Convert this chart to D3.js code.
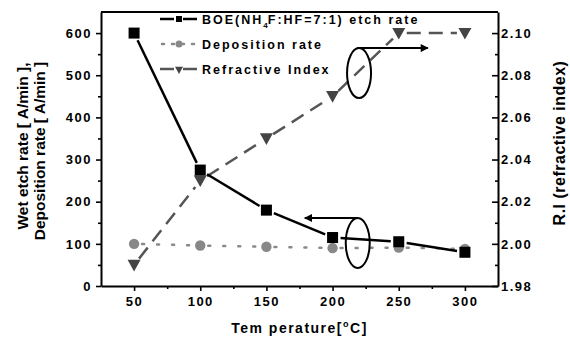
<!DOCTYPE html>
<html>
<head>
<meta charset="utf-8">
<script src="https://cdn.jsdelivr.net/npm/d3@7"></script>
<style>
  body { margin: 0; background: #fff; }
  svg text { font-family: "Liberation Sans", Arial, sans-serif; font-weight: bold; fill: #000; }
</style>
</head>
<body>
<div id="chart"></div>
<script>
// data
const temps = [50, 100, 150, 200, 250, 300];
const etchRate = [600, 275, 180, 115, 105, 80];
const depRate = [100, 96, 93, 90, 91, 88];
const refIndex = [1.99, 2.03, 2.05, 2.07, 2.10, 2.10];

const xTicks = [50, 100, 150, 200, 250, 300];
const xMinor = [75, 125, 175, 225, 275];
const leftTicks = [0, 100, 200, 300, 400, 500, 600];
const leftMinor = [50, 150, 250, 350, 450, 550];
const rightTicks = [1.98, 2.00, 2.02, 2.04, 2.06, 2.08, 2.10];
const rightMinor = [1.99, 2.01, 2.03, 2.05, 2.07, 2.09];

const width = 570, height = 343;
const margin = { top: 12, right: 72, bottom: 57, left: 101 };

const svg = d3.select("#chart").append("svg")
    .attr("width", width)
    .attr("height", height);

const x = d3.scaleLinear().domain([25, 325]).range([margin.left, width - margin.right]);
const yL = d3.scaleLinear().domain([0, 650]).range([height - margin.bottom, margin.top]);
const yR = d3.scaleLinear().domain([1.98, 2.11]).range([height - margin.bottom, margin.top]);

const x0 = margin.left, x1 = width - margin.right;
const y0 = height - margin.bottom, y1 = margin.top;

function styleAxis(g, fontSize) {
    g.select(".domain").attr("stroke", "#000").attr("stroke-width", 2);
    g.selectAll(".tick line").attr("stroke", "#000").attr("stroke-width", 1.6);
    g.selectAll(".tick text")
        .attr("fill", "#000")
        .style("font-size", fontSize + "px")
        .style("letter-spacing", "1.5px");
}

// minor ticks first (below major)
svg.append("g").attr("transform", `translate(0,${y0})`)
    .call(d3.axisBottom(x).tickValues(xMinor).tickSize(3).tickFormat(""))
    .call(g => { g.select(".domain").remove(); g.selectAll("line").attr("stroke", "#000").attr("stroke-width", 1.6); });
svg.append("g").attr("transform", `translate(${x0},0)`)
    .call(d3.axisLeft(yL).tickValues(leftMinor).tickSize(3).tickFormat(""))
    .call(g => { g.select(".domain").remove(); g.selectAll("line").attr("stroke", "#000").attr("stroke-width", 1.6); });
svg.append("g").attr("transform", `translate(${x1},0)`)
    .call(d3.axisRight(yR).tickValues(rightMinor).tickSize(-3).tickFormat(""))
    .call(g => { g.select(".domain").remove(); g.selectAll("line").attr("stroke", "#000").attr("stroke-width", 1.6); });

// major axes
svg.append("g").attr("transform", `translate(0,${y0})`)
    .call(d3.axisBottom(x).tickValues(xTicks).tickSize(5).tickSizeOuter(0).tickPadding(6))
    .call(g => styleAxis(g, 13));
svg.append("g").attr("transform", `translate(${x0},0)`)
    .call(d3.axisLeft(yL).tickValues(leftTicks).tickSize(5).tickSizeOuter(0).tickPadding(4))
    .call(g => styleAxis(g, 13));
svg.append("g").attr("transform", `translate(${x1},0)`)
    .call(d3.axisRight(yR).tickValues(rightTicks).tickFormat(d3.format(".2f")).tickSize(-6).tickSizeOuter(0).tickPadding(4))
    .call(g => styleAxis(g, 13))
    .call(g => g.selectAll(".tick text").attr("x", 3));

// top frame line
svg.append("line")
    .attr("x1", x0).attr("x2", x1).attr("y1", y1).attr("y2", y1)
    .attr("stroke", "#000").attr("stroke-width", 2);

// axis titles
svg.append("text")
    .attr("transform", `translate(28,${(y0 + y1) / 2 - 3}) rotate(-90)`)
    .attr("text-anchor", "middle")
    .style("font-size", "15.5px")
    .text("Wet etch rate [ A/min ],");
svg.append("text")
    .attr("transform", `translate(45,${(y0 + y1) / 2 + 2}) rotate(-90)`)
    .attr("text-anchor", "middle")
    .style("font-size", "15.5px")
    .text("Deposition rate [ A/min ]");
svg.append("text")
    .attr("transform", `translate(565,${(y0 + y1) / 2 - 6}) rotate(-90)`)
    .attr("text-anchor", "middle")
    .style("font-size", "16px")
    .style("letter-spacing", "0.5px")
    .text("R.I (refractive index)");

const xt = svg.append("text")
    .attr("x", (x0 + x1) / 2)
    .attr("y", 333)
    .attr("text-anchor", "middle")
    .style("font-size", "14px")
    .style("letter-spacing", "1.5px");
xt.append("tspan").text("Tem perature[");
xt.append("tspan").attr("dy", -6).style("font-size", "9px").text("o");
xt.append("tspan").attr("dy", 6).text("C]");

// draw a series as separate segments that stop short of the markers
function segments(values, yScale, gap, stroke, width, dash) {
    const pts = temps.map((t, i) => [x(t), yScale(values[i])]);
    const g = svg.append("g");
    for (let i = 0; i < pts.length - 1; i++) {
        const [ax, ay] = pts[i], [bx, by] = pts[i + 1];
        const len = Math.hypot(bx - ax, by - ay);
        const ux = (bx - ax) / len, uy = (by - ay) / len;
        g.append("line")
            .attr("x1", ax + ux * gap).attr("y1", ay + uy * gap)
            .attr("x2", bx - ux * gap).attr("y2", by - uy * gap)
            .attr("stroke", stroke)
            .attr("stroke-width", width)
            .attr("stroke-dasharray", dash || null)
            .attr("stroke-linecap", dash && dash.startsWith("2") ? "round" : "butt");
    }
}

const triangle = s => `M${-s / 2},${-s * 0.4}L${s / 2},${-s * 0.4}L0,${s * 0.5}Z`;

// refractive index (right axis)
segments(refIndex, yR, 8, "#555", 2.5, "14,8");
svg.append("g").selectAll("path")
    .data(temps)
    .join("path")
    .attr("transform", (d, i) => `translate(${x(d)},${yR(refIndex[i])})`)
    .attr("d", triangle(13))
    .attr("fill", "#444");

// deposition rate
segments(depRate, yL, 8, "#8a8a8a", 2.5, "2,13");
svg.append("g").selectAll("circle")
    .data(temps)
    .join("circle")
    .attr("cx", d => x(d))
    .attr("cy", (d, i) => yL(depRate[i]))
    .attr("r", 5.2)
    .attr("fill", "#888");

// etch rate
segments(etchRate, yL, 8, "#000", 2.5, null);
svg.append("g").selectAll("rect")
    .data(temps)
    .join("rect")
    .attr("x", d => x(d) - 5.5)
    .attr("y", (d, i) => yL(etchRate[i]) - 5.5)
    .attr("width", 11)
    .attr("height", 11)
    .attr("fill", "#000");

// annotation ellipses + arrows
svg.append("defs").append("marker")
    .attr("id", "arrow")
    .attr("viewBox", "0 0 10 10")
    .attr("refX", 9).attr("refY", 5)
    .attr("markerWidth", 5).attr("markerHeight", 4)
    .attr("orient", "auto-start-reverse")
    .append("path")
    .attr("d", "M0,0L10,5L0,10Z")
    .attr("fill", "#000");

const riNote = { x: 220, y: 2.081, toX: 272 };
const etchNote = { x: 219, y: 102, toX: 179 };
const ellRx = 12, ellRy = 25;

svg.append("ellipse")
    .attr("cx", x(riNote.x)).attr("cy", yR(riNote.y))
    .attr("rx", ellRx).attr("ry", ellRy)
    .attr("fill", "none").attr("stroke", "#000").attr("stroke-width", 2);
svg.append("line")
    .attr("x1", x(riNote.x) - 2).attr("y1", yR(riNote.y) - ellRy)
    .attr("x2", x(riNote.toX)).attr("y2", yR(riNote.y) - ellRy)
    .attr("stroke", "#000").attr("stroke-width", 2)
    .attr("marker-end", "url(#arrow)");

svg.append("ellipse")
    .attr("cx", x(etchNote.x)).attr("cy", yL(etchNote.y))
    .attr("rx", ellRx).attr("ry", ellRy)
    .attr("fill", "none").attr("stroke", "#000").attr("stroke-width", 2);
svg.append("line")
    .attr("x1", x(etchNote.x)).attr("y1", yL(etchNote.y) - ellRy)
    .attr("x2", x(etchNote.toX)).attr("y2", yL(etchNote.y) - ellRy)
    .attr("stroke", "#000").attr("stroke-width", 2)
    .attr("marker-end", "url(#arrow)");

// legend
const legendItems = [
    { label: "BOE(NH4F:HF=7:1) etch rate", color: "#000", dash: null, marker: "square" },
    { label: "Deposition rate", color: "#8a8a8a", dash: "2,8", marker: "circle" },
    { label: "Refractive Index", color: "#555", dash: null, marker: "triangle" }
];
const legend = svg.append("g").attr("transform", "translate(160,19)");
legendItems.forEach((item, i) => {
    const row = legend.append("g").attr("transform", `translate(0,${i * 25})`);
    if (item.dash) {
        row.append("line").attr("x1", 2).attr("x2", 36)
            .attr("stroke", item.color).attr("stroke-width", 2.5)
            .attr("stroke-dasharray", item.dash).attr("stroke-linecap", "round");
    } else {
        row.append("line").attr("x1", 0).attr("x2", 14)
            .attr("stroke", item.color).attr("stroke-width", 2.5);
        row.append("line").attr("x1", 23).attr("x2", 37)
            .attr("stroke", item.color).attr("stroke-width", 2.5);
    }
    if (item.marker === "square") {
        row.append("rect").attr("x", 16).attr("y", -3).attr("width", 6).attr("height", 6).attr("fill", "#000");
    } else if (item.marker === "circle") {
        row.append("circle").attr("cx", 19).attr("cy", 0).attr("r", 3.5).attr("fill", "#888");
    } else {
        row.append("path").attr("transform", "translate(19,1)").attr("d", triangle(8)).attr("fill", "#444");
    }
    const t = row.append("text")
        .attr("x", 42).attr("y", 4.5)
        .style("font-size", "12.5px")
        .style("letter-spacing", "2px");
    if (item.label.startsWith("BOE")) {
        t.append("tspan").text("BOE(NH");
        t.append("tspan").attr("dy", 4).style("font-size", "8px").style("letter-spacing", "0px").text("4");
        t.append("tspan").attr("dy", -4).text("F:HF=7:1) etch rate");
    } else {
        t.text(item.label);
    }
});
</script>
</body>
</html>
